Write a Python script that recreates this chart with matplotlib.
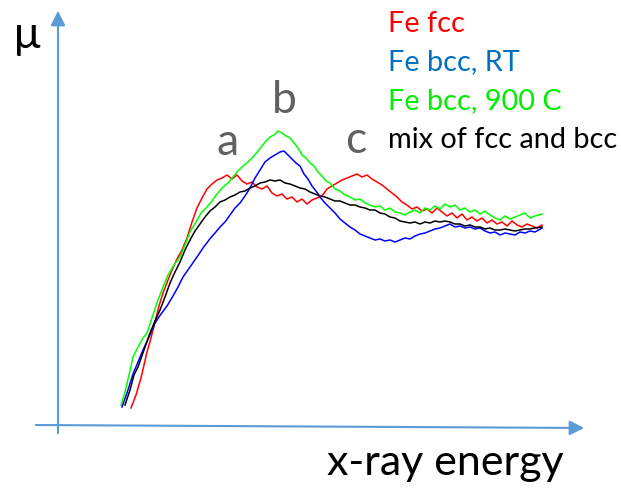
import matplotlib.pyplot as plt

# readings in arbitrary units (energy from the y arrow, mu above the x arrow)
e_fcc = [73, 78, 83, 89, 93, 97, 101, 105, 110, 114, 119, 124, 129, 134, 139, 144, 149, 154, 159, 164,
         169, 174, 179, 184, 189, 194, 199, 204, 209, 214, 219, 224, 229, 234, 239, 244, 249, 254, 259, 264,
         269, 274, 279, 284, 289, 294, 299, 304, 309, 314, 319, 324, 329, 334, 339, 344, 349, 354, 359, 364,
         369, 374, 379, 384, 389, 394, 399, 404, 409, 414, 419, 424, 429, 434, 439, 444, 449, 454, 459, 464,
         469, 474, 479, 484]
mu_fcc = [16, 29, 46, 72, 86, 102, 118, 131, 144, 154, 165, 174, 186, 202, 216, 226, 235, 240, 244, 246,
          249, 245, 249, 243, 240, 242, 237, 235, 238, 231, 228, 230, 225, 227, 222, 225, 220, 224, 226, 228,
          235, 238, 241, 244, 246, 248, 250, 247, 249, 245, 242, 239, 235, 231, 227, 222, 219, 215, 217, 213,
          215, 211, 216, 212, 208, 211, 206, 210, 204, 207, 203, 206, 201, 204, 200, 202, 198, 203, 199, 197,
          200, 198, 196, 199]

e_bcc_rt = [64, 69, 75, 80, 85, 91, 97, 103, 109, 115, 120, 125, 132, 139, 145, 151, 157, 162, 167, 172,
            177, 182, 187, 192, 197, 202, 207, 212, 217, 222, 226, 230, 234, 238, 242, 246, 250, 254, 258, 262,
            267, 272, 277, 282, 287, 292, 297, 302, 307, 312, 317, 322, 327, 332, 337, 342, 347, 352, 357, 362,
            367, 372, 377, 382, 387, 392, 397, 402, 407, 412, 417, 422, 427, 432, 437, 442, 447, 452, 457, 462,
            467, 472, 477, 484]
mu_bcc_rt = [17, 31, 50, 62, 74, 87, 101, 110, 118, 128, 137, 147, 157, 167, 176, 184, 191, 197, 202, 209,
             216, 221, 228, 236, 246, 254, 262, 266, 269, 272, 273, 269, 265, 261, 258, 250, 245, 238, 233, 227,
             221, 216, 211, 205, 201, 197, 194, 190, 188, 186, 184, 185, 183, 184, 182, 184, 186, 185, 188, 190,
             191, 193, 195, 196, 198, 200, 197, 198, 196, 197, 195, 196, 193, 191, 192, 189, 191, 190, 189, 192,
             191, 193, 192, 196]

e_bcc_900 = [63, 67, 71, 75, 80, 85, 89, 94, 100, 105, 110, 116, 122, 127, 132, 138, 143, 149, 154, 159,
             165, 170, 175, 180, 185, 190, 195, 200, 204, 208, 212, 216, 220, 224, 228, 232, 236, 240, 244, 248,
             252, 256, 260, 264, 268, 272, 277, 282, 287, 292, 297, 302, 307, 312, 317, 322, 327, 332, 337, 342,
             347, 352, 357, 362, 367, 372, 377, 382, 387, 392, 397, 402, 407, 412, 417, 422, 427, 432, 437, 442,
             447, 452, 457, 462, 467, 472, 477, 484]
mu_bcc_900 = [19, 32, 49, 67, 77, 86, 91, 106, 124, 137, 149, 159, 167, 179, 192, 202, 211, 217, 223, 230,
              237, 241, 247, 253, 258, 262, 267, 273, 278, 283, 287, 289, 293, 291, 288, 286, 281, 276, 269, 266,
              261, 258, 252, 248, 243, 241, 235, 233, 229, 227, 224, 225, 221, 219, 217, 218, 214, 216, 212, 211,
              209, 212, 214, 211, 216, 214, 218, 215, 220, 217, 219, 214, 216, 212, 214, 210, 213, 209, 206, 204,
              208, 205, 207, 209, 211, 206, 208, 210]

e_mix = [67, 72, 76, 80, 86, 92, 97, 102, 107, 112, 117, 122, 127, 132, 137, 142, 147, 152, 157, 162,
         167, 172, 177, 182, 187, 192, 197, 202, 207, 212, 217, 222, 227, 232, 237, 242, 247, 252, 257, 262,
         267, 272, 277, 282, 287, 292, 297, 302, 307, 312, 317, 322, 327, 332, 337, 342, 347, 352, 357, 362,
         367, 372, 377, 382, 387, 392, 397, 402, 407, 412, 417, 422, 427, 432, 437, 442, 447, 452, 457, 462,
         467, 472, 477, 484]
mu_mix = [19, 34, 49, 57, 74, 91, 103, 114, 127, 141, 152, 162, 174, 184, 193, 200, 207, 213, 217, 222,
          224, 227, 229, 232, 233, 236, 238, 241, 242, 244, 243, 244, 241, 240, 238, 236, 235, 232, 230, 228,
          227, 225, 223, 223, 221, 219, 219, 217, 216, 214, 214, 211, 210, 207, 206, 203, 202, 201, 202, 200,
          202, 201, 203, 202, 203, 202, 200, 200, 198, 199, 197, 197, 195, 196, 194, 194, 195, 194, 193, 194,
          195, 195, 196, 197]

labels = ["Fe fcc", "Fe bcc, RT", "Fe bcc, 900 C", "mix of fcc and bcc"]
label_colors = ["#ff0000", "#0070c0", "#00ee00", "#000000"]

plt.rcParams['font.family'] = ['Lato', 'DejaVu Sans']

fig = plt.figure(figsize=(6.21, 4.88), dpi=100)
ax = fig.add_axes([0, 0, 1, 1])
ax.set_xlim(-58, 563)
ax.set_ylim(-64, 424)
ax.axis('off')

axis_blue = "#5b9bd5"
ax.annotate('', xy=(0, 416), xytext=(0, -12),
            arrowprops=dict(arrowstyle='-|>', color=axis_blue, lw=1.5, mutation_scale=22))
ax.annotate('', xy=(529, -4), xytext=(-25, -1),
            arrowprops=dict(arrowstyle='-|>', color=axis_blue, lw=1.5, mutation_scale=22))

ax.plot(e_fcc, mu_fcc, color="#ff0000", lw=1.1)
ax.plot(e_bcc_900, mu_bcc_900, color="#00ff00", lw=1.1)
ax.plot(e_bcc_rt, mu_bcc_rt, color="#0000ff", lw=1.1)
ax.plot(e_mix, mu_mix, color="#000000", lw=1.1)

for i, txt in enumerate(labels):
    ax.text(330, 392 - 38.5 * i, txt, color=label_colors[i], fontsize=20.8, va='baseline')

ax.text(-45, 376, "\u00b5", fontsize=32, va='baseline')
ax.text(269, -51, "x-ray energy", fontsize=31, va='baseline')

gray = "#606060"
ax.text(159, 269, "a", color=gray, fontsize=32, va='baseline')
ax.text(214, 311, "b", color=gray, fontsize=32, va='baseline')
ax.text(287, 271, "c", color=gray, fontsize=32, va='baseline')

fig.savefig("out.png", dpi=100)
